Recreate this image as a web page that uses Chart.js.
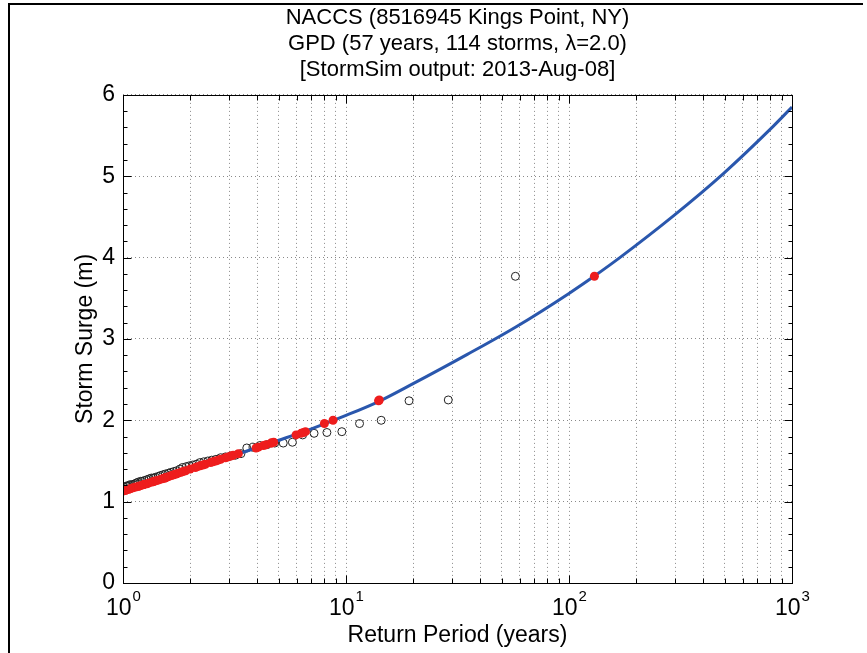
<!DOCTYPE html>
<html>
<head>
<meta charset="utf-8">
<title>NACCS Kings Point storm surge</title>
<script src="https://cdn.jsdelivr.net/npm/chart.js@4.4.1/dist/chart.umd.min.js"></script>
<style>
  body { margin: 0; background: #fff; }
  #wrap { position: relative; width: 867px; height: 653px; }
  #frame {
    position: absolute; left: 8px; top: 3px; right: 4px; bottom: 0;
    border-left: 2px solid #000; border-top: 2px solid #000;
    pointer-events: none;
  }
</style>
</head>
<body>
<div id="wrap">
  <canvas id="surgeChart" width="867" height="653"></canvas>
  <div id="frame"></div>
</div>
<script>
const FONT = "'Liberation Sans', Arial, Helvetica, sans-serif";

// empirical storms (open circles): return period (yr) and surge (m)
const obsPeriod = [57.5, 28.75, 19.17, 14.38, 11.5, 9.58, 8.21, 7.19, 6.39, 5.75,
  5.23, 4.79, 4.42, 4.11, 3.83, 3.59, 3.38, 3.19, 3.03, 2.88,
  2.74, 2.61, 2.50, 2.40, 2.30, 2.21, 2.13, 2.05, 1.98, 1.92,
  1.85, 1.80, 1.74, 1.69, 1.64, 1.60, 1.55, 1.51, 1.47, 1.44,
  1.40, 1.37, 1.34, 1.31, 1.28, 1.25, 1.22, 1.20, 1.17, 1.15,
  1.13, 1.11, 1.08, 1.06, 1.05, 1.03, 1.01];
const obsSurge = [3.77, 2.25, 2.24, 2.00, 1.96, 1.86, 1.85, 1.84, 1.82, 1.73,
  1.72, 1.72, 1.70, 1.69, 1.67, 1.66, 1.59, 1.57, 1.56, 1.55,
  1.54, 1.52, 1.51, 1.50, 1.49, 1.48, 1.46, 1.45, 1.44, 1.43,
  1.42, 1.40, 1.38, 1.37, 1.36, 1.35, 1.34, 1.33, 1.32, 1.31,
  1.30, 1.29, 1.29, 1.28, 1.27, 1.26, 1.25, 1.25, 1.24, 1.23,
  1.22, 1.21, 1.21, 1.20, 1.19, 1.19, 1.18];

// same storms placed on the fitted curve (red dots)
const fitPeriod = [130, 14.1, 14.0, 8.75, 8.0, 6.58, 6.45, 6.29, 5.97, 4.74,
  4.62, 4.62, 4.38, 4.27, 4.05, 3.95, 3.29, 3.12, 3.04, 2.96,
  2.88, 2.74, 2.67, 2.60, 2.53, 2.47, 2.34, 2.28, 2.22, 2.16,
  2.11, 2.00, 1.91, 1.86, 1.82, 1.77, 1.73, 1.69, 1.65, 1.61,
  1.57, 1.54, 1.54, 1.50, 1.46, 1.42, 1.38, 1.38, 1.35, 1.31,
  1.28, 1.24, 1.24, 1.21, 1.18, 1.18, 1.14, 1.11, 1.08, 1.08,
  1.055, 1.027, 1.027, 1.00];
const fitSurge = [3.77, 2.25, 2.24, 2.00, 1.96, 1.86, 1.85, 1.84, 1.82, 1.73,
  1.72, 1.72, 1.70, 1.69, 1.67, 1.66, 1.59, 1.57, 1.56, 1.55,
  1.54, 1.52, 1.51, 1.50, 1.49, 1.48, 1.46, 1.45, 1.44, 1.43,
  1.42, 1.40, 1.38, 1.37, 1.36, 1.35, 1.34, 1.33, 1.32, 1.31,
  1.30, 1.29, 1.29, 1.28, 1.27, 1.26, 1.25, 1.25, 1.24, 1.23,
  1.22, 1.21, 1.21, 1.20, 1.19, 1.19, 1.18, 1.17, 1.16, 1.16,
  1.15, 1.14, 1.14, 1.13];

// GPD fit curve
const curvePeriod = [1, 2, 3, 5, 7, 10, 14, 20, 35, 58, 100, 131, 169, 293, 491, 821, 1000];
const curveSurge = [1.13, 1.39, 1.55, 1.755, 1.895, 2.06, 2.23, 2.45, 2.81, 3.15, 3.56, 3.78, 4.00, 4.51, 5.03, 5.61, 5.85];

// axes
const xMajorTicks = [1, 10, 100, 1000];
const xTickExp = ['0', '1', '2', '3'];
const xGridValues = [1, 2, 3, 4, 5, 6, 7, 8, 9, 10, 20, 30, 40, 50, 60, 70, 80, 90,
  100, 200, 300, 400, 500, 600, 700, 800, 900, 1000];
const yTicks = [0, 1, 2, 3, 4, 5, 6];

const titleLines = ['NACCS (8516945 Kings Point, NY)', 'GPD (57 years, 114 storms, \u03bb=2.0)', '[StormSim output: 2013-Aug-08]'];

const toPoints = (xs, ys) => xs.map((v, i) => ({ x: v, y: ys[i] }));

// box, inward tick marks and 10^n labels (MATLAB look)
const axisDecor = {
  id: 'axisDecor',
  afterDraw(chart) {
    const { ctx, chartArea: a, scales: { x, y } } = chart;
    ctx.save();
    ctx.strokeStyle = '#000';
    ctx.lineWidth = 1;
    const L = Math.round(a.left) + 0.5, R = Math.round(a.right) + 0.5;
    const T = Math.round(a.top) + 0.5, B = Math.round(a.bottom) + 0.5;
    ctx.strokeRect(L, T, R - L, B - T);

    ctx.beginPath();
    xGridValues.forEach(v => {
      const px = Math.round(x.getPixelForValue(v)) + 0.5;
      const len = xMajorTicks.includes(v) ? 8 : 5;
      ctx.moveTo(px, B); ctx.lineTo(px, B - len);
      ctx.moveTo(px, T); ctx.lineTo(px, T + len);
    });
    for (let k = 0; k <= 30; k++) {
      const py = Math.round(y.getPixelForValue(k * 0.2)) + 0.5;
      const len = k % 5 === 0 ? 8 : 4;
      ctx.moveTo(L, py); ctx.lineTo(L + len, py);
      ctx.moveTo(R, py); ctx.lineTo(R - len, py);
    }
    ctx.stroke();

    ctx.fillStyle = '#000';
    ctx.textBaseline = 'alphabetic';
    ctx.textAlign = 'left';
    const base = '23px ' + FONT, sup = '15px ' + FONT;
    xMajorTicks.forEach((v, i) => {
      const px = x.getPixelForValue(v);
      ctx.font = base;
      const w1 = ctx.measureText('10').width;
      ctx.font = sup;
      const w2 = ctx.measureText(xTickExp[i]).width;
      const start = px - (w1 + w2) / 2;
      ctx.font = base;
      ctx.fillText('10', start, 615);
      ctx.font = sup;
      ctx.fillText(xTickExp[i], start + w1 + 1, 601);
    });
    ctx.restore();
  }
};

const gridStyle = { color: '#8a8a8a', lineWidth: 1, drawTicks: false };

new Chart(document.getElementById('surgeChart'), {
  type: 'scatter',
  data: {
    datasets: [
      {
        label: 'Fit points',
        data: toPoints(fitPeriod, fitSurge),
        pointRadius: 4.5,
        pointBackgroundColor: '#ee1d1d',
        pointBorderColor: '#ee1d1d',
        pointBorderWidth: 0,
        order: 1
      },
      {
        label: 'GPD fit',
        data: toPoints(curvePeriod, curveSurge),
        showLine: true,
        borderColor: '#2a57ad',
        borderWidth: 3,
        pointRadius: 0,
        cubicInterpolationMode: 'monotone',
        order: 2
      },
      {
        label: 'Empirical',
        data: toPoints(obsPeriod, obsSurge),
        pointRadius: 4,
        pointBackgroundColor: 'rgba(0,0,0,0)',
        pointBorderColor: '#222',
        pointBorderWidth: 1,
        order: 3
      }
    ]
  },
  options: {
    responsive: false,
    animation: false,
    layout: { padding: { left: 0, right: 75, top: 0, bottom: 0 } },
    plugins: {
      legend: { display: false },
      tooltip: { enabled: false },
      title: {
        display: true,
        text: titleLines,
        fullSize: false,
        color: '#000',
        font: { family: FONT, size: 22, weight: 'normal', lineHeight: 1.18 },
        padding: { top: 5, bottom: 12 }
      }
    },
    scales: {
      x: {
        type: 'logarithmic',
        min: 1,
        max: 1000,
        afterBuildTicks: s => { s.ticks = xGridValues.map(v => ({ value: v })); },
        afterFit: s => { s.height = 70; },
        ticks: { display: false },
        grid: gridStyle,
        border: { display: false, dash: [1, 3] },
        title: {
          display: true,
          text: 'Return Period (years)',
          color: '#000',
          font: { family: FONT, size: 23 },
          padding: { top: 0, bottom: 4 }
        }
      },
      y: {
        min: 0,
        max: 6,
        afterBuildTicks: s => { s.ticks = yTicks.map(v => ({ value: v })); },
        afterFit: s => { s.width = 123; },
        ticks: { color: '#000', padding: 8, font: { family: FONT, size: 23 } },
        grid: gridStyle,
        border: { display: false, dash: [1, 3] },
        title: {
          display: true,
          text: 'Storm Surge (m)',
          color: '#000',
          font: { family: FONT, size: 23 },
          padding: { top: 72, bottom: 0 }
        }
      }
    }
  },
  plugins: [axisDecor]
});
</script>
</body>
</html>
